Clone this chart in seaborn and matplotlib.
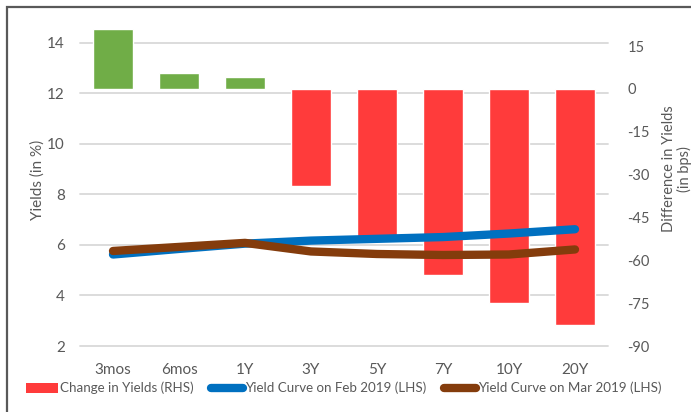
import matplotlib
matplotlib.use("Agg")
import matplotlib.pyplot as plt
import matplotlib.transforms as mtransforms
from matplotlib.patches import Patch, Rectangle
from matplotlib.lines import Line2D
import seaborn as sns
import pandas as pd

# Tenors and yield data
tenors = ["3mos", "6mos", "1Y", "3Y", "5Y", "7Y", "10Y", "20Y"]
yield_feb = [5.62, 5.84, 6.05, 6.17, 6.24, 6.31, 6.45, 6.62]
yield_mar = [5.76, 5.92, 6.08, 5.74, 5.64, 5.60, 5.62, 5.82]
change_bps = [21, 5.6, 4.2, -34, -53, -65, -75, -82.5]

left_ticks = [2, 4, 6, 8, 10, 12, 14]
right_ticks = [15, 0, -15, -30, -45, -60, -75, -90]

GREEN = "#70AD47"
RED = "#FF3B3B"
BLUE = "#0070C0"
BROWN = "#843C0C"
TEXT = "#595959"
GRID = "#D9D9D9"

sns.set_theme(style="white")
plt.rcParams["font.family"] = ["Lato", "DejaVu Sans"]

df = pd.DataFrame({"tenor": tenors, "feb": yield_feb, "mar": yield_mar, "chg": change_bps})
df["sign"] = ["pos" if v >= 0 else "neg" for v in change_bps]

fig = plt.figure(figsize=(6.91, 4.12), dpi=100)
ax_bar = fig.add_axes([80 / 691, 66 / 412, 528 / 691, 321 / 412])
ax_line = ax_bar.twinx()

L_LIM = (2, 14.7)
R_LIM = (-90, 22.4)

# Bars: change in yields on the right-hand scale
sns.barplot(data=df, x="tenor", y="chg", hue="sign", palette={"pos": GREEN, "neg": RED},
            order=tenors, width=0.6, dodge=False, legend=False, ax=ax_bar, zorder=2,
            saturation=1)
ax_bar.set_ylim(*R_LIM)
ax_bar.set_xlim(-0.5, len(tenors) - 0.5)

# Gridlines follow the left-hand yield scale, drawn beneath the bars
blend = mtransforms.blended_transform_factory(ax_bar.transAxes, ax_line.transData)
for v in left_ticks:
    ax_bar.plot([0, 1], [v, v], transform=blend, color=GRID, lw=1.3, zorder=0,
                clip_on=False)

# Yield curves on the left-hand scale
sns.lineplot(data=df, x="tenor", y="feb", color=BLUE, lw=6, ax=ax_line,
             solid_capstyle="round", solid_joinstyle="round", sort=False)
sns.lineplot(data=df, x="tenor", y="mar", color=BROWN, lw=6, ax=ax_line,
             solid_capstyle="round", solid_joinstyle="round", sort=False)
ax_line.set_ylim(*L_LIM)
ax_line.set_xlim(-0.5, len(tenors) - 0.5)

# Axis placement: yields on the left, bps difference on the right
ax_line.yaxis.tick_left()
ax_bar.yaxis.tick_right()

ax_line.set_yticks(left_ticks)
ax_bar.set_yticks(right_ticks)
ax_line.set_yticklabels([str(t) for t in left_ticks])
ax_bar.set_yticklabels([str(t) for t in right_ticks])

for a in (ax_bar, ax_line):
    for s in a.spines.values():
        s.set_visible(False)
    a.tick_params(length=0, labelsize=11, colors=TEXT)
    a.set_xlabel("")
    a.set_ylabel("")
    a.grid(False)

ax_line.tick_params(axis="y", pad=11)
ax_bar.tick_params(axis="y", pad=14, labelsize=10.5)
ax_bar.tick_params(axis="x", pad=12)
ax_line.tick_params(axis="x", labelbottom=False)

# Axis titles
fig.text(38 / 691, 1 - 180 / 412, "Yields (in %)", fontsize=11, color=TEXT,
         rotation=90, ha="center", va="center")
fig.text(677 / 691, 1 - 169 / 412, "Difference in Yields\n(in bps)", fontsize=10.5,
         color=TEXT, rotation=90, ha="center", va="center", linespacing=1.15,
         multialignment="center", rotation_mode="anchor")

handles = [
    Patch(facecolor=RED, edgecolor="none"),
    Line2D([0], [0], color=BLUE, lw=6, solid_capstyle="round"),
    Line2D([0], [0], color=BROWN, lw=6, solid_capstyle="round"),
]
labels = ["Change in Yields (RHS)", "Yield Curve on Feb 2019 (LHS)",
          "Yield Curve on Mar 2019 (LHS)"]
fig.legend(handles, labels, loc="center", bbox_to_anchor=(344 / 691, 1 - 388 / 412),
           ncol=3, frameon=False, fontsize=9.6, labelcolor=TEXT, handlelength=2.4,
           handleheight=0.75, handletextpad=0.15, columnspacing=1.3, borderpad=0)

# Chart frame
fig.patches.append(Rectangle((7 / 691, -0.1), 1.2, 1.1 - 7 / 412, transform=fig.transFigure,
                             fill=False, edgecolor="#595959", lw=1.6, zorder=10))

fig.savefig("out.png", dpi=100)
